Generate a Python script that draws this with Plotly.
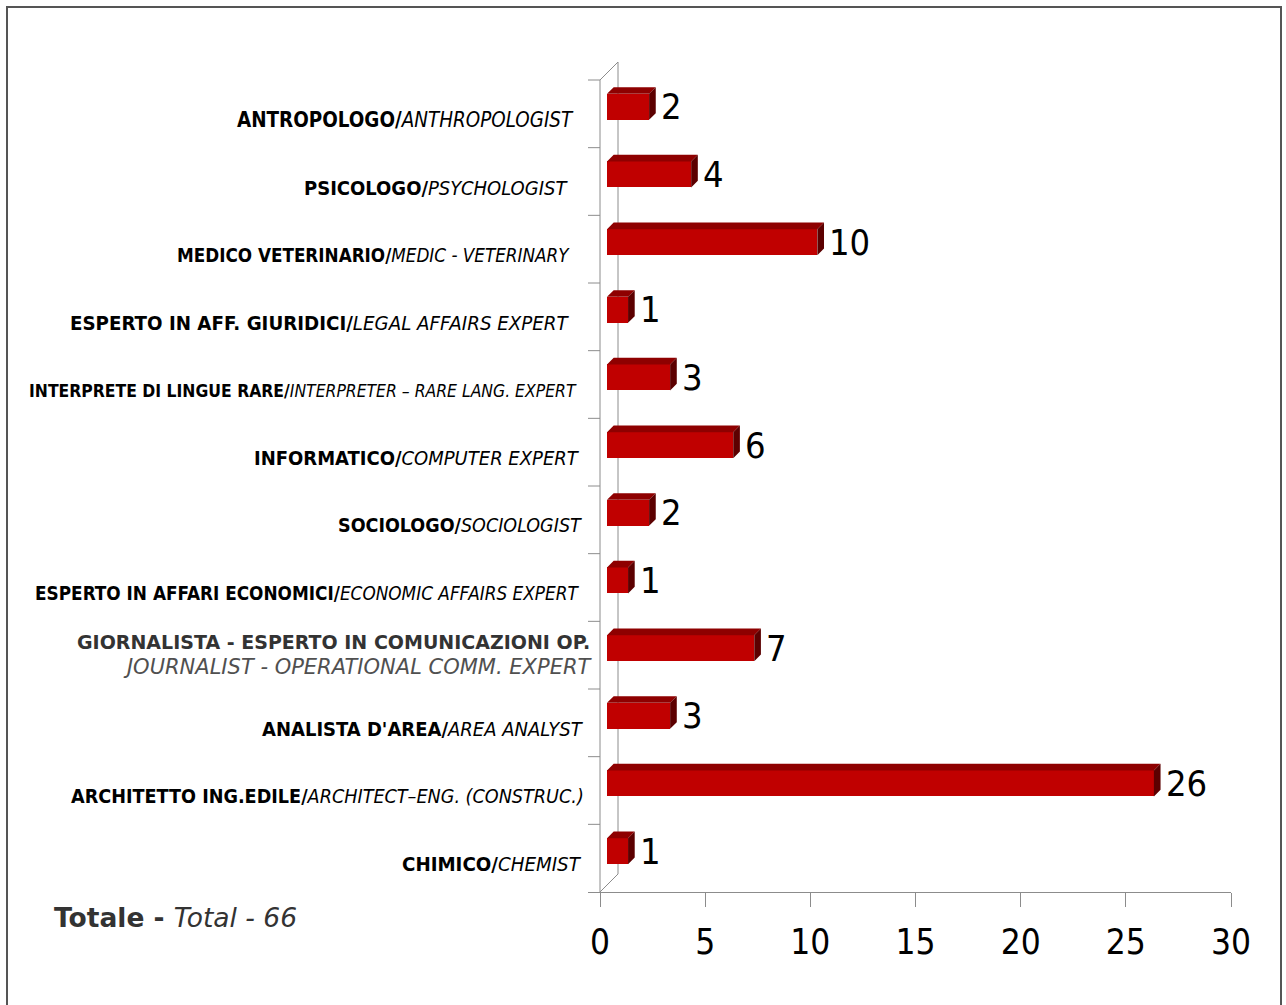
import plotly.graph_objects as go

# ---- data (bottom to top) ----
roles_it = [
    "CHIMICO",
    "ARCHITETTO ING.EDILE",
    "ANALISTA D'AREA",
    "GIORNALISTA - ESPERTO IN COMUNICAZIONI OP.",
    "ESPERTO IN AFFARI ECONOMICI",
    "SOCIOLOGO",
    "INFORMATICO",
    "INTERPRETE DI LINGUE RARE",
    "ESPERTO IN AFF. GIURIDICI",
    "MEDICO VETERINARIO",
    "PSICOLOGO",
    "ANTROPOLOGO",
]
roles_en = [
    "CHEMIST",
    "ARCHITECT–ENG. (CONSTRUC.)",
    "AREA ANALYST",
    "JOURNALIST - OPERATIONAL COMM. EXPERT",
    "ECONOMIC AFFAIRS EXPERT",
    "SOCIOLOGIST",
    "COMPUTER EXPERT",
    "INTERPRETER – RARE LANG. EXPERT",
    "LEGAL AFFAIRS EXPERT",
    "MEDIC - VETERINARY",
    "PSYCHOLOGIST",
    "ANTHROPOLOGIST",
]
counts = [1, 26, 3, 7, 1, 2, 6, 3, 1, 10, 4, 2]
x_tick_values = [0, 5, 10, 15, 20, 25, 30]

# ---- label styling (bottom to top): font size and right edge in px ----
label_font_size = [20.3, 19.6, 20, 19, 18.8, 19.5, 20, 17.4, 20.3, 18.7, 20, 20.4]
label_right_px = [580, 582, 582, 586, 577, 580, 578, 575, 568, 568, 566, 572]

# ---- layout geometry (pixels) ----
W, H = 1286, 1005
ORIGIN_PX = 600          # pixel position of x = 0
PLOT_L, PLOT_R = 588, 1231
PLOT_T, PLOT_B = 55, 892
CAT_TOP_PX = 80          # top edge of the category bands
X_MAX = 30
n = len(counts)

px_x = (PLOT_R - ORIGIN_PX) / X_MAX
px_y = (PLOT_B - CAT_TOP_PX) / n
x_min = -(ORIGIN_PX - PLOT_L) / px_x
y_min = -0.5
y_max = n - 0.5 + (CAT_TOP_PX - PLOT_T) / px_y

# oblique depth of the 3-D box
DEPTH_PX = 18
dx = DEPTH_PX / px_x
dy = DEPTH_PX / px_y
F_FRONT, F_BACK = 0.39, 0.76      # bar position inside the depth
bar_w = 26 / px_y

FRONT = "#C00000"
TOP = "#8E0000"
SIDE = "#5C0000"
AXIS = "#8C8C8C"

base_x = F_FRONT * dx
bar_y = [i + F_FRONT * dy for i in range(n)]
ddx = (F_BACK - F_FRONT) * dx
ddy = (F_BACK - F_FRONT) * dy

fig = go.Figure()

# front faces
fig.add_trace(go.Bar(
    y=bar_y, x=counts, base=base_x, orientation="h", width=bar_w,
    marker=dict(color=FRONT, line=dict(width=0)),
    hoverinfo="skip", showlegend=False,
))

# top and side faces
top_x, top_y, side_x, side_y = [], [], [], []
for yc, v in zip(bar_y, counts):
    yt, yb = yc + bar_w / 2, yc - bar_w / 2
    x1 = base_x + v
    top_x += [base_x, x1, x1 + ddx, base_x + ddx, base_x, None]
    top_y += [yt, yt, yt + ddy, yt + ddy, yt, None]
    side_x += [x1, x1, x1 + ddx, x1 + ddx, x1, None]
    side_y += [yb, yt, yt + ddy, yb + ddy, yb, None]

fig.add_trace(go.Scatter(x=top_x, y=top_y, mode="lines", fill="toself",
                         fillcolor=TOP, line=dict(width=0, color=TOP),
                         hoverinfo="skip", showlegend=False))
fig.add_trace(go.Scatter(x=side_x, y=side_y, mode="lines", fill="toself",
                         fillcolor=SIDE, line=dict(width=0, color=SIDE),
                         hoverinfo="skip", showlegend=False))

# box walls and category ticks
shapes = []
def seg(x0, y0, x1, y1):
    shapes.append(dict(type="line", xref="x", yref="y", x0=x0, y0=y0, x1=x1, y1=y1,
                       line=dict(color=AXIS, width=1), layer="below"))

seg(0, y_min, 0, n - 0.5)
seg(0, n - 0.5, dx, n - 0.5 + dy)
seg(dx, y_min + dy, dx, n - 0.5 + dy)
seg(0, y_min, dx, y_min + dy)
for k in range(1, n + 1):
    seg(x_min, k - 0.5, 0, k - 0.5)

# outer frame
def paper_x(px):
    return (px - PLOT_L) / (PLOT_R - PLOT_L)

def paper_y(py):
    return (PLOT_B - py) / (PLOT_B - PLOT_T)

shapes.append(dict(type="rect", xref="paper", yref="paper",
                   x0=paper_x(7), x1=paper_x(1281), y0=paper_y(1012), y1=paper_y(7),
                   line=dict(color="#555555", width=2), fillcolor="rgba(0,0,0,0)",
                   layer="below"))

annotations = []
NARROW = "DejaVu Sans Condensed, DejaVu Sans, sans-serif"

# category labels
for i, (it, en) in enumerate(zip(roles_it, roles_en)):
    shift = label_right_px[i] - 584
    if it.startswith("GIORNALISTA"):
        text = (f"<b><span style='color:#333333;font-size:19px'>{it}</span></b><br>"
                f"<i><span style='color:#505050;font-size:21px'>{en}</span></i>")
        font = dict(family="DejaVu Sans", size=19, color="#333333")
        annotations.append(dict(x=x_min, y=i, xref="x", yref="y", text=text,
                                showarrow=False, xanchor="right", yanchor="middle",
                                align="right", xshift=shift + 4, yshift=0, font=font))
    else:
        text = f"<b>{it}/</b><i>{en}</i>"
        annotations.append(dict(x=x_min, y=i, xref="x", yref="y", text=text,
                                showarrow=False, xanchor="right", yanchor="middle",
                                xshift=shift, yshift=-6,
                                font=dict(family=NARROW, size=label_font_size[i],
                                          color="#000000")))

# value labels
for yc, v in zip(bar_y, counts):
    annotations.append(dict(x=base_x + v + ddx, y=yc, xref="x", yref="y",
                            text=str(v), showarrow=False, xanchor="left",
                            yanchor="middle", xshift=3,
                            font=dict(family=NARROW, size=36, color="#000000")))

# total
total = sum(counts)
annotations.append(dict(x=paper_x(52), y=paper_y(918), xref="paper", yref="paper",
                        text=f"<b>Totale - </b><i>Total - {total}</i>",
                        showarrow=False, xanchor="left", yanchor="middle",
                        font=dict(family="DejaVu Sans", size=26.5, color="#333333")))

fig.update_layout(
    width=W, height=H,
    margin=dict(l=PLOT_L, r=W - PLOT_R, t=PLOT_T, b=H - PLOT_B, pad=0),
    paper_bgcolor="white", plot_bgcolor="white",
    shapes=shapes, annotations=annotations,
    bargap=0,
    xaxis=dict(range=[x_min, X_MAX], tickvals=x_tick_values,
               showline=True, linecolor=AXIS, linewidth=1,
               ticks="outside", ticklen=14, tickcolor=AXIS, tickwidth=1,
               ticklabelstandoff=5,
               showgrid=False, zeroline=False, fixedrange=True,
               tickfont=dict(family=NARROW, size=35, color="#000000")),
    yaxis=dict(range=[y_min, y_max], showticklabels=False, showgrid=False,
               zeroline=False, showline=False, ticks="", fixedrange=True),
)

fig.write_html("out.html")
